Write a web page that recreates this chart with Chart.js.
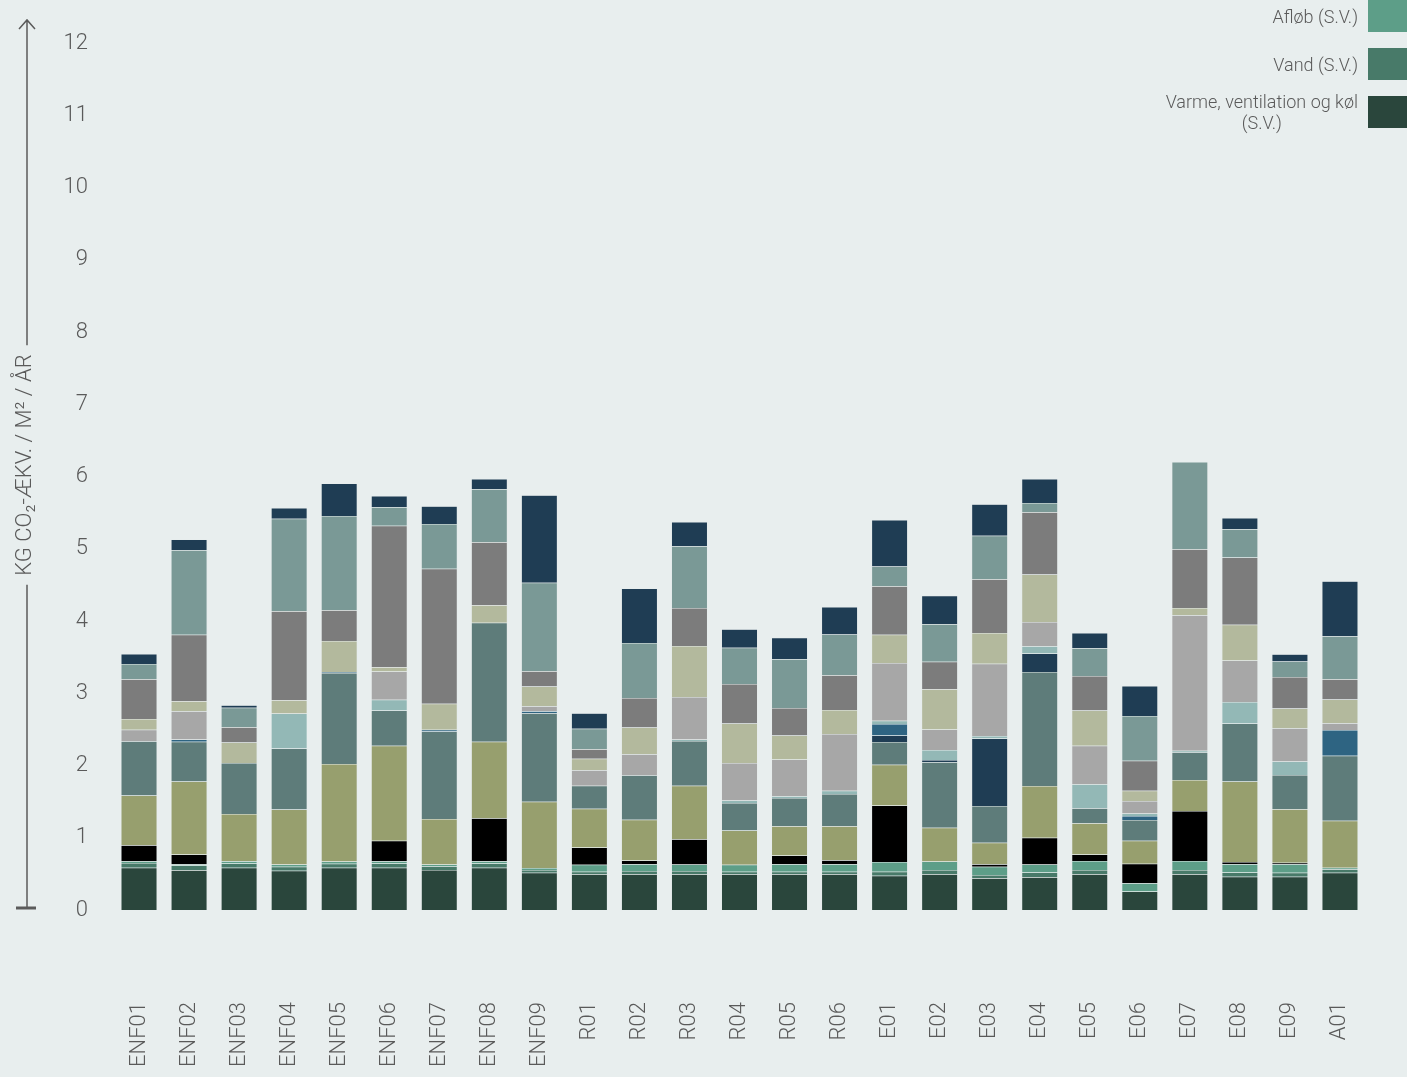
<!DOCTYPE html>
<html>
<head>
<meta charset="utf-8">
<script src="https://cdn.jsdelivr.net/npm/chart.js@4.4.0/dist/chart.umd.min.js"></script>
<style>
  html, body { margin: 0; padding: 0; background: #e8eeee; }
  #wrap { width: 1407px; height: 1077px; }
</style>
</head>
<body>
<div id="wrap"><canvas id="myChart"></canvas></div>
<script>
const kategorier = ['ENF01', 'ENF02', 'ENF03', 'ENF04', 'ENF05', 'ENF06', 'ENF07', 'ENF08', 'ENF09',
  'R01', 'R02', 'R03', 'R04', 'R05', 'R06',
  'E01', 'E02', 'E03', 'E04', 'E05', 'E06', 'E07', 'E08', 'E09', 'A01']
const yTicks = [0, 1, 2, 3, 4, 5, 6, 7, 8, 9, 10, 11, 12]

// stablet nedefra og op
const varme = [0.585, 0.55, 0.585, 0.545, 0.585, 0.585, 0.555, 0.585, 0.515, 0.495, 0.495, 0.495, 0.495, 0.495, 0.495, 0.475, 0.495, 0.44, 0.455, 0.495, 0.255, 0.495, 0.46, 0.46, 0.515]
const vand = [0.065, 0.065, 0.06, 0.055, 0.055, 0.06, 0.05, 0.06, 0.04, 0.035, 0.045, 0.045, 0.035, 0.035, 0.035, 0.055, 0.06, 0.045, 0.065, 0.06, 0, 0.06, 0.06, 0.055, 0.05]
const afloeb = [0.025, 0.02, 0.03, 0.03, 0.03, 0.03, 0.025, 0.03, 0.025, 0.095, 0.095, 0.09, 0.095, 0.105, 0.105, 0.135, 0.115, 0.115, 0.11, 0.125, 0.115, 0.125, 0.115, 0.12, 0.02]
const sort = [0.22, 0.135, 0, 0, 0, 0.285, 0, 0.595, 0, 0.24, 0.05, 0.35, 0, 0.12, 0.055, 0.78, 0, 0.035, 0.37, 0.09, 0.27, 0.69, 0.03, 0.02, 0]
const oliven = [0.69, 1.01, 0.655, 0.76, 1.35, 1.315, 0.63, 1.06, 0.92, 0.535, 0.565, 0.74, 0.475, 0.405, 0.47, 0.565, 0.47, 0.295, 0.715, 0.43, 0.32, 0.43, 1.115, 0.74, 0.65]
const graaTeal = [0.75, 0.55, 0.705, 0.845, 1.26, 0.485, 1.21, 1.645, 1.225, 0.32, 0.615, 0.62, 0.38, 0.39, 0.445, 0.315, 0.905, 0.51, 1.58, 0.21, 0.285, 0.385, 0.8, 0.475, 0.9]
const navyMidt = [0, 0, 0, 0, 0, 0, 0, 0, 0, 0, 0, 0, 0, 0, 0, 0.09, 0.03, 0.935, 0.255, 0, 0, 0, 0, 0, 0]
const blaa = [0, 0.03, 0, 0, 0.015, 0, 0.025, 0, 0.025, 0, 0, 0, 0, 0, 0, 0.16, 0, 0, 0, 0, 0.055, 0, 0, 0, 0.355]
const lysTeal = [0, 0, 0, 0.485, 0, 0.15, 0, 0, 0, 0, 0, 0.02, 0.035, 0.025, 0.045, 0.045, 0.14, 0.035, 0.1, 0.33, 0.035, 0.02, 0.3, 0.185, 0]
const lysGraa = [0.16, 0.39, 0, 0, 0, 0.39, 0, 0, 0.07, 0.215, 0.29, 0.59, 0.52, 0.51, 0.785, 0.8, 0.285, 1.0, 0.335, 0.535, 0.175, 1.875, 0.575, 0.46, 0.095]
const lysOliven = [0.15, 0.14, 0.285, 0.185, 0.43, 0.06, 0.36, 0.245, 0.275, 0.16, 0.37, 0.705, 0.545, 0.33, 0.335, 0.39, 0.555, 0.425, 0.66, 0.485, 0.14, 0.1, 0.495, 0.275, 0.33]
const graa = [0.55, 0.92, 0.21, 1.23, 0.425, 1.96, 1.87, 0.87, 0.21, 0.13, 0.41, 0.525, 0.55, 0.38, 0.48, 0.67, 0.38, 0.745, 0.86, 0.48, 0.415, 0.815, 0.93, 0.435, 0.28]
const teal = [0.21, 1.17, 0.27, 1.28, 1.305, 0.255, 0.62, 0.735, 1.225, 0.285, 0.76, 0.855, 0.5, 0.675, 0.565, 0.275, 0.52, 0.6, 0.13, 0.385, 0.62, 1.205, 0.39, 0.215, 0.595]
const navyTop = [0.14, 0.15, 0.035, 0.15, 0.45, 0.155, 0.245, 0.14, 1.21, 0.215, 0.755, 0.335, 0.255, 0.3, 0.38, 0.645, 0.395, 0.435, 0.33, 0.21, 0.415, 0, 0.155, 0.1, 0.76]

const serier = [
  ['Varme, ventilation og køl (S.V.)', varme, '#2a463c', true],
  ['Vand (S.V.)', vand, '#487a69', true],
  ['Afløb (S.V.)', afloeb, '#5d9e88', true],
  ['Serie 4', sort, '#000000', false],
  ['Serie 5', oliven, '#979f6e', false],
  ['Serie 6', graaTeal, '#5e7c7a', false],
  ['Serie 7', navyMidt, '#1f3d54', false],
  ['Serie 8', blaa, '#2e6482', false],
  ['Serie 9', lysTeal, '#93b8b6', false],
  ['Serie 10', lysGraa, '#a7a7a7', false],
  ['Serie 11', lysOliven, '#b3b99d', false],
  ['Serie 12', graa, '#7c7c7c', false],
  ['Serie 13', teal, '#7a9996', false],
  ['Serie 14', navyTop, '#1f3d54', false]
]

const tekstFarve = '#5a5a5a'

// pil-akse til venstre
const yAkse = {
  id: 'yAkse',
  afterDraw(chart) {
    const c = chart.ctx
    const y = chart.scales.y
    const x0 = 27
    const bund = y.getPixelForValue(0) - 2
    const top = chart.chartArea.top
    const midt = (chart.chartArea.top + chart.chartArea.bottom) / 2
    c.save()
    c.font = '300 22px Roboto'
    const halv = c.measureText(y.options.title.text).width / 2 + 9
    c.strokeStyle = '#5b5b5b'
    c.lineWidth = 1.5
    c.beginPath()
    c.moveTo(x0, bund); c.lineTo(x0, midt + halv)
    c.moveTo(x0, midt - halv); c.lineTo(x0, top)
    c.moveTo(x0 - 8, top + 9); c.lineTo(x0, top); c.lineTo(x0 + 8, top + 9)
    c.stroke()
    c.lineWidth = 3
    c.beginPath(); c.moveTo(x0 - 11, bund); c.lineTo(x0 + 9, bund); c.stroke()
    c.restore()
  }
}

// forklaring oppe til højre, boks til højre for teksten
const forklaring = {
  id: 'forklaring',
  afterDraw(chart) {
    const c = chart.ctx
    const viste = chart.data.datasets.filter(d => d.iForklaring).reverse()
    c.save()
    c.font = '300 18px Roboto'
    c.textAlign = 'center'
    c.textBaseline = 'middle'
    viste.forEach((d, i) => {
      const boksTop = i * 48
      c.fillStyle = d.backgroundColor
      c.fillRect(1368, boksTop, 50, 32)
      // ombryd lange tekster
      const ord = d.label.split(' ')
      const linjer = []
      let linje = ''
      ord.forEach(o => {
        const proeve = linje ? linje + ' ' + o : o
        if (c.measureText(proeve).width > 205 && linje) { linjer.push(linje); linje = o } else linje = proeve
      })
      linjer.push(linje)
      const bredde = Math.max(...linjer.map(l => c.measureText(l).width))
      const cx = 1358 - bredde / 2
      const cy = boksTop + 18
      c.fillStyle = tekstFarve
      linjer.forEach((l, j) => {
        c.fillText(l, cx, cy + (j - (linjer.length - 1) / 2) * 21)
      })
    })
    c.restore()
  }
}

const ctx = document.getElementById('myChart')

const myChart = new Chart(ctx, {
  type: 'bar',
  data: {
    labels: kategorier,
    datasets: serier.map(s => ({
      label: s[0],
      data: s[1],
      backgroundColor: s[2],
      borderColor: 'rgba(225,232,232,0.5)',
      borderWidth: 0.5,
      iForklaring: s[3],
      barPercentage: 0.72,
      categoryPercentage: 1
    }))
  },
  options: {
    responsive: true,
    maintainAspectRatio: false,
    animation: false,
    layout: { padding: { top: 20, right: 42, left: 0, bottom: 0 } },
    plugins: {
      legend: { display: false },
      tooltip: { enabled: false }
    },
    scales: {
      x: {
        stacked: true,
        grid: { display: false, drawTicks: false },
        border: { display: false },
        ticks: {
          autoSkip: false,
          minRotation: 90,
          maxRotation: 90,
          padding: 92,
          color: tekstFarve,
          font: { family: 'Roboto', size: 22, weight: '300' }
        },
        afterFit: (axis) => {
          axis.height = 167
          axis.paddingLeft = 0
          axis.paddingRight = 0
        }
      },
      y: {
        stacked: true,
        min: 0,
        max: 12.32,
        grid: { display: false, drawTicks: false },
        border: { display: false },
        ticks: {
          stepSize: 1,
          padding: 26,
          color: tekstFarve,
          font: { family: 'Roboto', size: 22, weight: '300' }
        },
        afterBuildTicks: (axis) => {
          axis.ticks = yTicks.map(v => ({ value: v }))
        },
        title: {
          display: true,
          text: 'KG CO₂-ÆKV. / M² / ÅR',
          color: tekstFarve,
          font: { family: 'Roboto', size: 22, weight: '300' },
          padding: { top: 12, bottom: 0 }
        },
        afterFit: (axis) => {
          axis.width = 114
          axis.paddingTop = 0
          axis.paddingBottom = 0
        }
      }
    }
  },
  plugins: [yAkse, forklaring]
})
</script>
</body>
</html>
